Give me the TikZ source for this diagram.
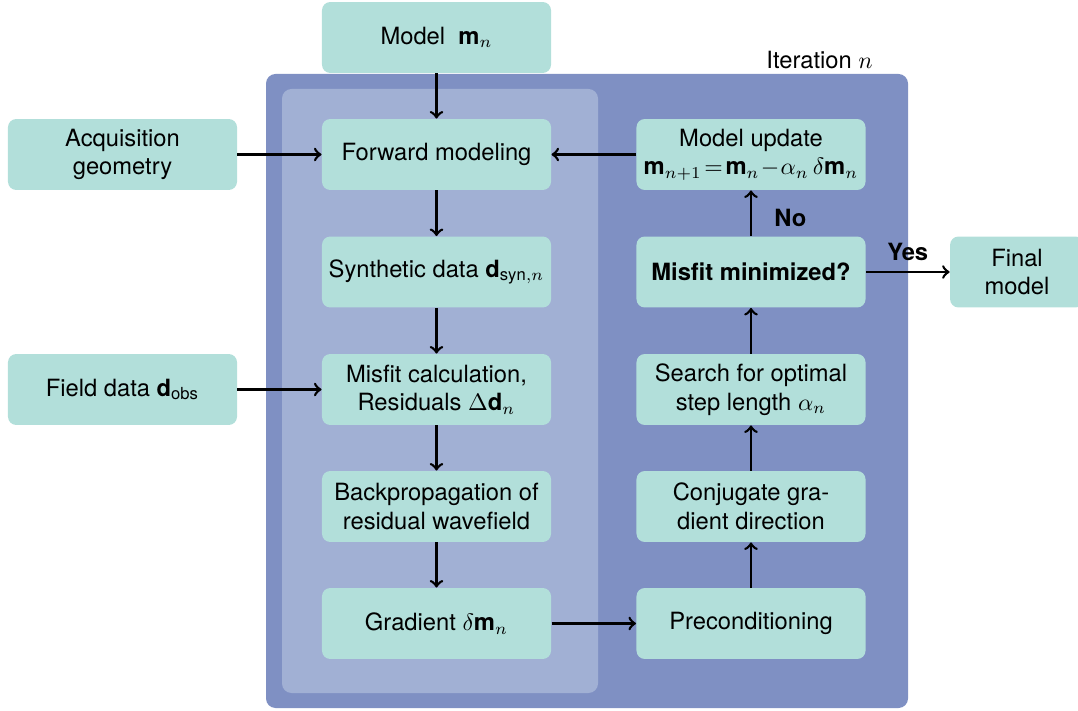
\documentclass[tikz,border=0pt]{standalone}
\usepackage{amsmath}
\usepackage{fontspec}
\setmainfont{TeX Gyre Heros}

\definecolor{boxteal}{HTML}{B2DFDA}
\definecolor{iterblue}{HTML}{7F90C3}
\definecolor{gradblue}{HTML}{A1B0D4}
\newcommand{\vecm}{\textbf{m}}
\newcommand{\vecd}{\textbf{d}}

\begin{document}
\begin{tikzpicture}[x=0.0148cm, y=-0.0148cm,
    fwibox/.style={fill=boxteal, rounded corners=3.5pt, minimum width=3.39cm,
        minimum height=1.05cm, align=center, inner sep=2pt},
    flow/.style={->, line width=1.1pt}]

    % Columns and rows (pixels of the sketch)
    \def\xs{122.5}   % sources on the left
    \def\xl{436.5}   % left column
    \def\xr{751}     % right column
    \def\xf{1017}    % final model
    \def\ya{154.5}
    \def\yb{272}
    \def\yc{389.5}
    \def\yd{506.5}
    \def\ye{623.5}

    \useasboundingbox (0,0) rectangle (1078,711);

    % Iteration frame and gradient panel
    \fill[iterblue, rounded corners=4pt] (266,74) rectangle (908,708);
    \fill[gradblue, rounded corners=4pt] (282,89) rectangle (598,693);
    \node[anchor=east] (iterlabel) at (881,60) {Iteration $n$};

    % Inputs
    \node[fwibox] (model)  at (\xl,37.5) {Model \ $\vecm_n$};
    \node[fwibox] (acq)    at (\xs,\ya) {Acquisition\\geometry};
    \node[fwibox] (field)  at (\xs,\yc) {Field data $\vecd_{\text{obs}}$};

    % Gradient computation
    \node[fwibox] (fwd)    at (\xl,\ya) {Forward modeling};
    \node[fwibox] (syn)    at (\xl,\yb) {Synthetic data $\vecd_{\text{syn},n}$};
    \node[fwibox] (misfit) at (\xl,\yc) {Misfit calculation,\\Residuals $\Delta\vecd_n$};
    \node[fwibox] (back)   at (\xl,\yd) {Backpropagation of\\residual wavefield};
    \node[fwibox] (grad)   at (\xl,\ye) {Gradient $\delta\vecm_n$};

    % Update
    \node[fwibox] (precon) at (\xr,\ye) {Preconditioning};
    \node[fwibox] (conj)   at (\xr,\yd) {Conjugate gra-\\dient direction};
    \node[fwibox] (search) at (\xr,\yc) {Search for optimal\\step length $\alpha_n$};
    \node[fwibox] (check)  at (\xr,\yb) {\textbf{Misfit minimized?}};
    \node[fwibox] (update) at (\xr,\ya) {Model update\\
        $\medmuskip=1mu \thickmuskip=2mu \vecm_{n+1} = \vecm_n - \alpha_n\,\delta\vecm_n$};
    \node[fwibox, minimum width=1.98cm] (final) at (\xf,\yb) {Final\\model};

    % Connectors
    \draw[flow] (model) -- (fwd);
    \draw[flow] (acq) -- (fwd);
    \draw[flow] (fwd) -- (syn);
    \draw[flow] (syn) -- (misfit);
    \draw[flow] (field) -- (misfit);
    \draw[flow] (misfit) -- (back);
    \draw[flow] (back) -- (grad);
    \draw[flow] (grad) -- (precon);
    \draw[flow] (precon) -- (conj);
    \draw[flow] (conj) -- (search);
    \draw[flow] (search) -- (check);
    \draw[flow] (check) -- node[right=6pt, pos=0.4] {\textbf{No}} (update);
    \draw[flow] (check) -- node[above=1pt] {\textbf{Yes}} (final);
    \draw[flow] (update) -- (fwd);

\end{tikzpicture}
\end{document}
